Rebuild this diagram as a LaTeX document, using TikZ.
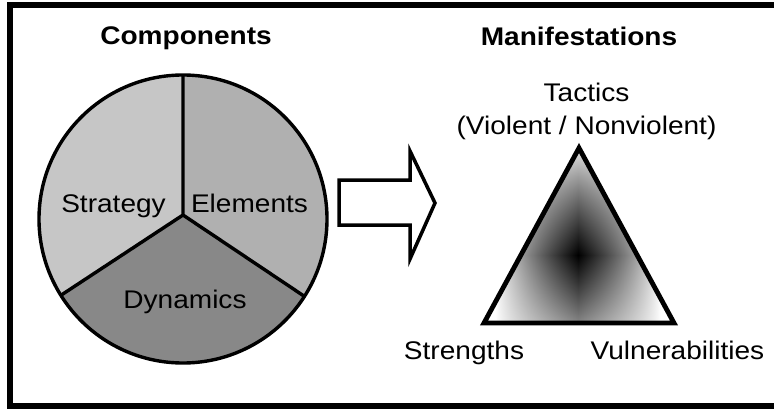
\documentclass[tikz,border=0pt]{standalone}
\usepackage{fontspec}
\setmainfont{Liberation Sans}[FakeStretch=1.1]
\usetikzlibrary{calc}
\definecolor{strat}{HTML}{C6C6C6}
\definecolor{elem}{HTML}{B0B0B0}
\definecolor{dyn}{HTML}{888888}
\pgfdeclarefunctionalshading{starshade}{\pgfpoint{-102bp}{-114bp}}{\pgfpoint{102bp}{114bp}}{}{
 abs 112 div 1 exch sub dup abs add 2 div exch abs 82 div 1 exch sub dup abs add 2 div mul 0.8 exp 1 exch sub dup dup
}
\tikzset{
  lbl/.style={anchor=base, inner sep=0pt, font=\fontsize{25.5}{30}\selectfont},
  title/.style={lbl, font=\fontsize{25.5}{30}\selectfont\bfseries},
  pieline/.style={line width=3.4pt, line join=round},
  outline/.style={line width=4.8pt, line join=miter},
}
\begin{document}
\begin{tikzpicture}[x=1pt,y=1pt]
\useasboundingbox (0,0) rectangle (774,408);
% frame
\draw[line width=6pt] (10.3,403.3) rectangle (800,2);
% titles
\node[title] (comp) at (186,363) {Components};
\node[title] (manif) at (579,362.5) {Manifestations};
% pie
\coordinate (C) at (183,189);
\coordinate (J) at (183,193);
\coordinate (T) at ($(C)+(90:144)$);
\coordinate (L) at ($(C)+(212:144)$);
\coordinate (R) at ($(C)+(327.5:144)$);
\fill[strat] (J) -- (T) arc[start angle=90, end angle=212, radius=144] -- cycle;
\fill[elem] (J) -- (T) arc[start angle=90, end angle=-32.5, radius=144] -- cycle;
\fill[dyn] (J) -- (L) arc[start angle=212, end angle=327.5, radius=144] -- cycle;
\draw[pieline] (C) circle[radius=144];
\draw[pieline] (T) -- (J) -- (L) (J) -- (R);
\node[lbl] (strategy) at (113.5,196) {Strategy};
\node[lbl] (elements) at (249.5,196) {Elements};
\node[lbl] (dynamics) at (185,100) {Dynamics};
% arrow
\draw[line width=3.5pt, line join=miter, fill=white]
  (339,228) -- (410,228) -- (410,257) -- (435,205) -- (410,149) -- (410,183) -- (339,183) -- cycle;
% triangle
\coordinate (A) at (579,260);
\coordinate (B) at (484,85);
\coordinate (D) at (674,85);
\begin{scope}
\clip (A) -- (B) -- (D) -- cycle;
\node[inner sep=0pt, outer sep=0pt] (shade) at (578,153) {\pgfuseshading{starshade}};
\end{scope}
\draw[outline] (A) -- (B) -- (D) -- cycle;
\node[lbl] (tactics) at (586.5,306) {Tactics};
\node[lbl] (violent) at (586.5,274) {(Violent / Nonviolent)};
\node[lbl] (strengths) at (464,49) {Strengths};
\node[lbl] (vuln) at (677.5,49) {Vulnerabilities};
\end{tikzpicture}
\end{document}
